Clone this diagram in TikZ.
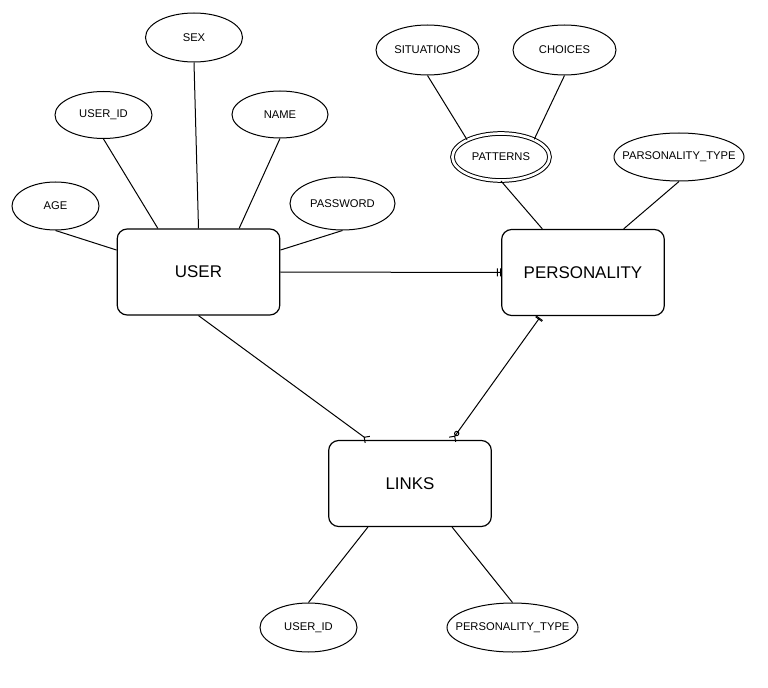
\documentclass[tikz,border=0pt]{standalone}
\usepackage{fontspec}
\setmainfont{Liberation Sans}
\usepackage{tikz}
\usetikzlibrary{shapes.geometric}
\usetikzlibrary{arrows.meta}

\begin{document}
\begin{tikzpicture}[x=0.75pt, y=-0.75pt,
  entity/.style={draw, rectangle, rounded corners=7.5pt, line width=0.9pt,
    minimum width=122pt, minimum height=64.5pt, inner sep=0pt,
    font=\fontsize{12.7}{15}\selectfont},
  attr/.style={draw, ellipse, line width=0.75pt, inner sep=0pt,
    font=\fontsize{8.4}{10}\selectfont},
  multiattr/.style={attr, double, double distance=2pt},
  conn/.style={line width=0.75pt},
  onlyone/.style={-{Bar[width=6pt,sep=1.6pt]Bar[width=6pt]}},
  many/.style={-{Straight Barb[reversed,length=3pt,width=6pt]}},
  onezeromany/.style={{Bar[width=6pt,sep=1.6pt]Bar[width=6pt]}-{Circle[open,length=4pt,sep=0pt]Straight Barb[reversed,length=3pt,width=6pt]}}]
  \useasboundingbox (0,0) rectangle (768,688);

  % Entities
  \node[entity] (user) at (198.5,272) {USER};
  \node[entity] (personality) at (583,272.5) {PERSONALITY};
  \node[entity] (links) at (410,483.5) {LINKS};

  % Attributes of USER
  \node[attr, minimum width=72.75pt, minimum height=36.75pt] (sex) at (194,37.5) {SEX};
  \node[attr, minimum width=72.75pt, minimum height=35.25pt] (uid) at (103.5,115) {USER\_ID};
  \node[attr, minimum width=72pt, minimum height=35.25pt] (name) at (280,114.5) {NAME};
  \node[attr, minimum width=65.25pt, minimum height=36pt] (age) at (55.5,206) {AGE};
  \node[attr, minimum width=78.75pt, minimum height=39.75pt] (pwd) at (342.5,203.5) {PASSWORD};

  % Attributes of PERSONALITY
  \node[attr, minimum width=77.25pt, minimum height=37.5pt] (sit) at (427.5,50) {SITUATIONS};
  \node[attr, minimum width=77.25pt, minimum height=37.5pt] (cho) at (564.5,50) {CHOICES};
  \node[multiattr, minimum width=72.75pt, minimum height=35.25pt] (pat) at (501,157) {PATTERNS};
  \node[attr, inner xsep=-15pt, minimum width=97.5pt, minimum height=36pt] (ptype) at (679,157) {PARSONALITY\_TYPE};

  % Attributes of LINKS
  \node[attr, minimum width=72.75pt, minimum height=36.75pt] (luid) at (308.5,627.5) {USER\_ID};
  \node[attr, inner xsep=-15pt, minimum width=98.25pt, minimum height=36.75pt] (lptype) at (512.5,627.5) {PERSONALITY\_TYPE};

  % Attribute links
  \draw[conn] (age.south) -- (user.165);
  \draw[conn] (uid.south) -- (user.133);
  \draw[conn] (sex.south) -- (user.north);
  \draw[conn] (name.south) -- (user.47);
  \draw[conn] (pwd.south) -- (user.15);
  \draw[conn] (sit.south) -- (pat.153);
  \draw[conn] (cho.south) -- (pat.28);
  \draw[conn] (pat.south) -- (personality.133);
  \draw[conn] (ptype.south) -- (personality.47);
  \draw[conn] (links.226) -- (luid.north);
  \draw[conn] (links.314) -- (lptype.north);

  % Relationships
  \draw[conn, onlyone] (user.east) -- (personality.west);
  \draw[conn, many] (user.south) -- (links.134);
  \draw[conn, onezeromany] (personality.226) -- (links.46);
\end{tikzpicture}
\end{document}
